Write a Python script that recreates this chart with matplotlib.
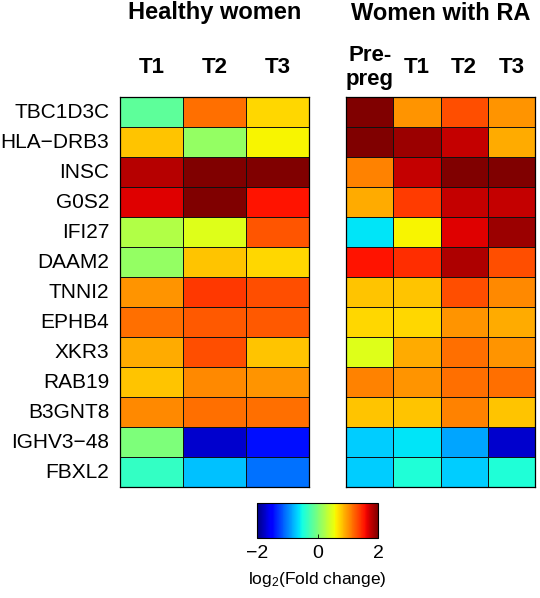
import numpy as np
import matplotlib
matplotlib.use("Agg")
import matplotlib.pyplot as plt

plt.rcParams['font.family'] = ['Liberation Sans', 'DejaVu Sans']
plt.rcParams['mathtext.default'] = 'regular'

genes = ['TBC1D3C', 'HLA\u2212DRB3', 'INSC', 'G0S2', 'IFI27', 'DAAM2', 'TNNI2',
         'EPHB4', 'XKR3', 'RAB19', 'B3GNT8', 'IGHV3\u221248', 'FBXL2']
healthy_cols = ['T1', 'T2', 'T3']
ra_cols = ['Pre-\npreg', 'T1', 'T2', 'T3']

# log2 fold change (jet, -2..2)
healthy_t1 = [-0.15, 0.80, 1.80, 1.66, 0.25, 0.12, 1.00, 1.16, 0.92, 0.80, 1.05, 0.00, -0.35]
healthy_t2 = [1.16, 0.12, 2.00, 2.00, 0.48, 0.80, 1.40, 1.25, 1.30, 1.05, 1.16, -1.72, -0.75]
healthy_t3 = [0.72, 0.60, 2.00, 1.56, 1.28, 0.72, 1.30, 1.25, 0.80, 1.00, 1.16, -1.45, -1.05]

ra_pre = [2.00, 2.00, 1.08, 0.92, -0.60, 1.56, 0.80, 0.72, 0.48, 1.08, 0.80, -0.70, -0.70]
ra_t1 = [1.00, 1.90, 1.75, 1.38, 0.60, 1.45, 0.80, 0.72, 0.92, 1.00, 0.80, -0.60, -0.45]
ra_t2 = [1.30, 1.75, 2.00, 1.75, 1.66, 1.84, 1.30, 1.00, 1.16, 1.16, 1.08, -0.85, -0.70]
ra_t3 = [1.00, 0.92, 2.00, 1.75, 1.90, 1.30, 1.05, 0.92, 1.00, 1.16, 0.80, -1.72, -0.45]

healthy = np.column_stack([healthy_t1, healthy_t2, healthy_t3])
ra = np.column_stack([ra_pre, ra_t1, ra_t2, ra_t3])

W, H = 540, 598
fig = plt.figure(figsize=(W / 100, H / 100), dpi=100)


def px_axes(x0, y0, x1, y1):
    return fig.add_axes([x0 / W, 1 - y1 / H, (x1 - x0) / W, (y1 - y0) / H])


def draw_heat(ax, data, cols):
    m = ax.pcolormesh(data, cmap='jet', vmin=-2, vmax=2,
                      edgecolors='#111111', linewidth=0.6)
    ax.set_xlim(0, data.shape[1])
    ax.set_ylim(data.shape[0], 0)
    ax.set_xticks([])
    ax.set_yticks([])
    for s in ax.spines.values():
        s.set_linewidth(0.9)
    for i, c in enumerate(cols):
        ax.text(i + 0.5, -0.98, c, ha='center', va='center', fontsize=16,
                fontweight='bold', linespacing=1.2)
    return m


ax1 = px_axes(120, 97, 309, 487)
mesh = draw_heat(ax1, healthy, healthy_cols)
for j, g in enumerate(genes):
    ax1.text(-0.17, j + 0.5, g, ha='right', va='center', fontsize=15)
ax1.text(1.5, -2.8, 'Healthy women', ha='center', va='center',
         fontsize=17, fontweight='bold')

ax2 = px_axes(346, 97, 535, 487)
draw_heat(ax2, ra, ra_cols)
ax2.text(2.0, -2.8, 'Women with RA', ha='center', va='center',
         fontsize=17, fontweight='bold')

cax = px_axes(257, 503, 378, 538)
cb = fig.colorbar(mesh, cax=cax, orientation='horizontal', ticks=[-2, 0, 2])
cb.ax.set_xticklabels(['\u22122', '0', '2'])
cb.ax.tick_params(labelsize=14, length=3, direction='in', width=0.6, pad=5)
cb.outline.set_linewidth(0.8)
cb.set_label('log$_2$(Fold change)', fontsize=12.5, labelpad=6)

fig.savefig('out.png', dpi=100)
